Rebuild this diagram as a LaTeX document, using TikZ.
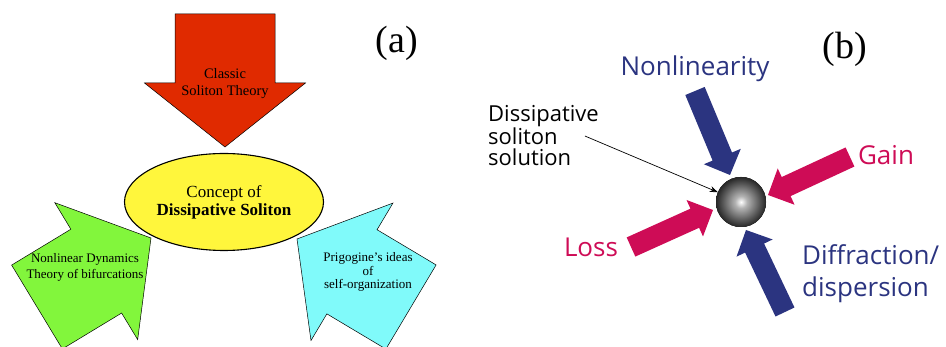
\documentclass[tikz,border=0pt]{standalone}
\usepackage{fontspec}
\setmainfont{Liberation Serif}
\newfontfamily\labelfont{Open Sans}
\usepackage{tikz}
\usetikzlibrary{shapes.geometric, calc, arrows.meta, positioning}

\definecolor{classred}{RGB}{224,42,0}
\definecolor{dyngreen}{RGB}{130,246,60}
\definecolor{selfcyan}{RGB}{128,250,250}
\definecolor{conyellow}{RGB}{255,246,60}
\definecolor{nlnavy}{RGB}{43,52,128}
\definecolor{gaincrimson}{RGB}{206,12,86}

\pgfdeclareradialshading{soliball}{\pgfpoint{0bp}{0bp}}{%
  color(0bp)=(white); color(6bp)=(black!30); color(18bp)=(black!65);
  color(25bp)=(black!85); color(50bp)=(black!85)}

% block arrow: style, from, tip, shaft half width, head half width, head length
\newcommand{\BlockArrow}[6]{%
  \coordinate (headbase) at ($(#3)!#6!(#2)$);
  \path[#1] ($(#2)!#4!90:(#3)$) -- ($(headbase)!#4!90:(#3)$)
     -- ($(headbase)!#5!90:(#3)$) -- (#3)
     -- ($(headbase)!#5!-90:(#3)$) -- ($(headbase)!#4!-90:(#3)$)
     -- ($(#2)!#4!-90:(#3)$) -- cycle;}

\begin{document}
\begin{tikzpicture}[x=1pt, y=-1pt,
    outlined/.style={draw=black, line width=0.5pt, line join=miter},
    boxtext/.style={align=center, inner sep=0pt},
    bsans/.style={font=\labelfont\fontsize{26}{32}\selectfont, inner sep=0pt}]
    \useasboundingbox (0,0) rectangle (946,347);
    \begin{scope}
    \clip (0,0) rectangle (946,347);
        % (a) three big arrows
        \BlockArrow{outlined, fill=classred}{225,14}{225,147}{50pt}{80.5pt}{64pt}
        \BlockArrow{outlined, fill=dyngreen}{37,307}{151,238}{49pt}{80pt}{64pt}
        \BlockArrow{outlined, fill=selfcyan}{411,307}{297,239}{49pt}{80pt}{64pt}
    \end{scope}
    % texts in the arrows
    \node[boxtext, font=\fontsize{14.5}{17}\selectfont] (classic) at (225,84)
        {Classic\\Soliton Theory};
    \node[boxtext, font=\fontsize{13}{16}\selectfont] (dynamics) at (85,267)
        {Nonlinear Dynamics\\Theory of bifurcations};
    \node[boxtext, font=\fontsize{13}{13.5}\selectfont] (prigogine) at (368,272)
        {Prigogine's ideas\\of\\self-organization};
    % central ellipse
    \node[ellipse, draw=black, line width=1.1pt, fill=conyellow,
        minimum width=199pt, minimum height=97pt, inner sep=0pt, align=center,
        font=\fontsize{17}{18}\selectfont] (concept) at (224,202)
        {Concept of\\\textbf{Dissipative Soliton}};
    \node[anchor=base, inner sep=0pt, font=\fontsize{38}{40}\selectfont] (alabel) at (397,53) {(a)};

    % (b) soliton and its four influences
    \foreach \sx/\sy/\tx/\ty/\col in
        {695/91/730/175/nlnavy, 785/312/746/230/nlnavy,
         850/157/768/195/gaincrimson, 631/247/713/210/gaincrimson}
        \BlockArrow{fill=\col}{\sx,\sy}{\tx,\ty}{10.5pt}{20pt}{20pt}
    \node[circle, minimum size=50pt, inner sep=0pt, shading=soliball] (ball) at (741,202) {};
    \node[anchor=base, inner sep=0pt, font=\fontsize{38}{40}\selectfont] (blabel) at (845,59) {(b)};
    \node[bsans, anchor=base, text=nlnavy] (nonlin) at (695,76) {Nonlinearity};
    \node[bsans, anchor=base, text=gaincrimson] (gain) at (886,165) {Gain};
    \node[bsans, anchor=base, text=gaincrimson] (loss) at (591,257) {Loss};
    \node[bsans, anchor=base west, align=left, text=nlnavy] (diffr) at (802,297)
        {Diffraction/\\dispersion};
    \node[font=\labelfont\fontsize{22}{21}\selectfont, anchor=base west, align=left,
        inner sep=0pt] (dsol) at (488,166) {Dissipative\\soliton\\solution};
    \draw[line width=0.7pt, -{Stealth[length=8pt, width=6pt]}] ([xshift=-14pt]dsol.east) -- (ball);
\end{tikzpicture}
\end{document}
